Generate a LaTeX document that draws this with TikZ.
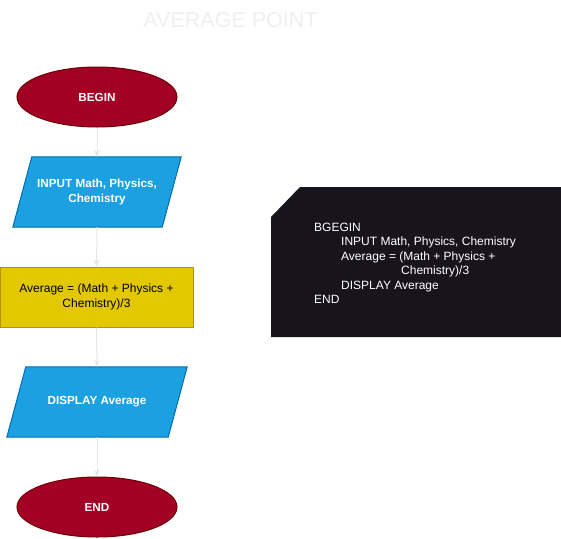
\documentclass[tikz,border=0pt]{standalone}
\usepackage{fontspec}
\setmainfont{Liberation Sans}
\usetikzlibrary{shapes.geometric,arrows.meta,calc,backgrounds}
\definecolor{termfill}{HTML}{A20025}
\definecolor{termline}{HTML}{6F0000}
\definecolor{iofill}{HTML}{1BA1E2}
\definecolor{ioline}{HTML}{006EAF}
\definecolor{procfill}{HTML}{E3C800}
\definecolor{procline}{HTML}{B09500}
\definecolor{codefill}{HTML}{18141D}
\definecolor{arrowgray}{HTML}{E6E6E6}
\definecolor{titlegray}{HTML}{EFEFEF}
\begin{document}
\begin{tikzpicture}[x=1pt,y=-1pt,
  term/.style={ellipse, fill=termfill, draw=termline, line width=1pt,
    minimum width=160pt, minimum height=60pt, inner sep=0pt, text=white,
    font=\fontsize{11.7}{14.4}\selectfont\bfseries},
  iobox/.style={rectangle, minimum height=70pt, inner sep=0pt, text=white,
    align=center, font=\fontsize{11.7}{14.4}\selectfont\bfseries},
  iodraw/.style={fill=iofill, draw=ioline, line width=1pt},
  procbox/.style={rectangle, fill=procfill, draw=procline, line width=1pt,
    minimum width=193pt, minimum height=60pt, inner sep=0pt, align=center,
    text=black, font=\fontsize{12}{14.4}\selectfont},
  flow/.style={draw=arrowgray, line width=1pt, -{Stealth[length=7pt,width=6pt]}},
  codeline/.style={anchor=base west, inner sep=0pt, text=white,
    font=\fontsize{12}{14.4}\selectfont}
]
\useasboundingbox (0,0) rectangle (561,538);

% title
\node[anchor=base, inner sep=0pt, text=titlegray,
  font=\fontsize{21.5}{25}\selectfont] (title) at (230.5,27) {AVERAGE POINT};

% flowchart
\node[term] (begin) at (97,97) {BEGIN};
\node[iobox, minimum width=168pt] (input) at (97,192) {INPUT Math, Physics,\\Chemistry};
\node[procbox] (avg) at (96.5,297) {Average = (Math + Physics +\\Chemistry)/3};
\node[iobox, minimum width=180pt] (disp) at (97,402) {DISPLAY Average};
\node[term] (end) at (97,507) {END};

% parallelograms drawn behind their text
\begin{pgfonlayer}{background}
\path[iodraw] ($(input.north west)+(19,0)$) -- (input.north east)
  -- ($(input.south east)+(-19,0)$) -- (input.south west) -- cycle;
\path[iodraw] ($(disp.north west)+(19,0)$) -- (disp.north east)
  -- ($(disp.south east)+(-19,0)$) -- (disp.south west) -- cycle;
\end{pgfonlayer}

% connectors
\draw[flow] (begin.south) -- (input.north);
\draw[flow] (input.south) -- (avg.north);
\draw[flow] (avg.south) -- (disp.north);
\draw[flow] (disp.south) -- (end.north);

% pseudocode card
\fill[codefill] (271,217) -- (300,187) -- (562,187) -- (562,337) -- (271,337) -- cycle;
\node[codeline] (c1) at (314,231.5) {BGEGIN};
\node[codeline] (c2) at (341,245.9) {INPUT Math, Physics, Chemistry};
\node[codeline] (c3) at (341,260.3) {Average = (Math + Physics +};
\node[codeline] (c4) at (401,274.7) {Chemistry)/3};
\node[codeline] (c5) at (341,289.1) {DISPLAY Average};
\node[codeline] (c6) at (314,303.5) {END};
\end{tikzpicture}
\end{document}
